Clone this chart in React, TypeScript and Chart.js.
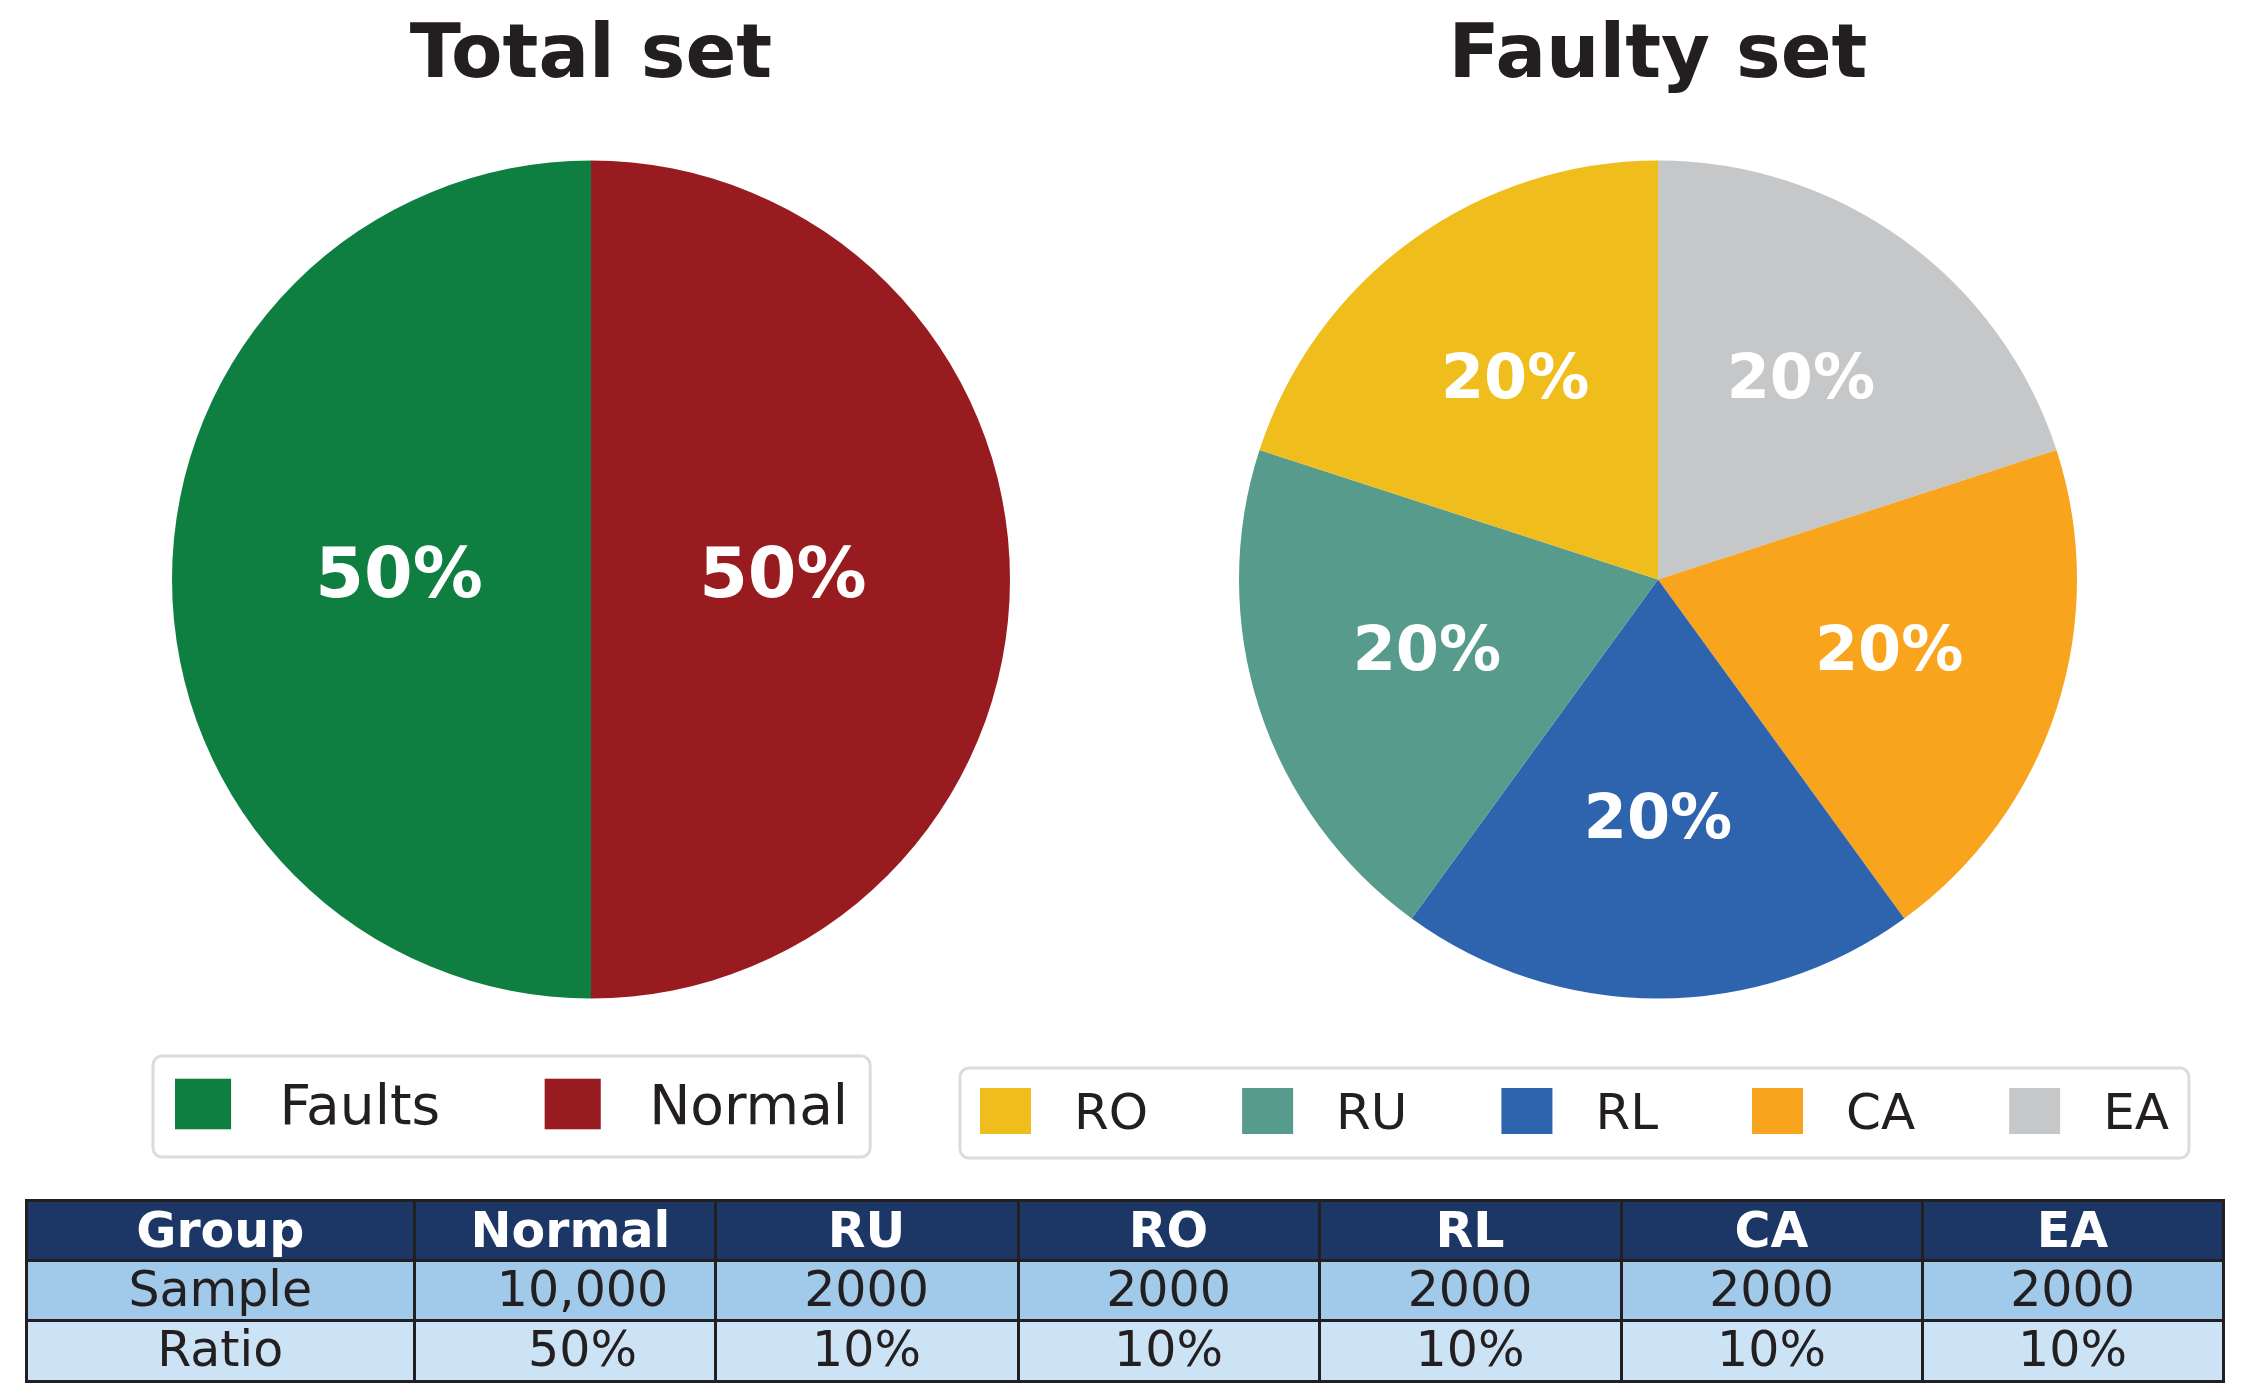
import React, { useEffect, useRef } from "react";
import { Chart, registerables } from "chart.js";

Chart.register(...registerables);

// ---------------- DATA ----------------
const totalLabels = ["Faults", "Normal"];
const totalValues = [50, 50];
const totalColors = ["#0e7f40", "#981b1f"];

const faultyLabels = ["RO", "RU", "RL", "CA", "EA"];
const faultyValues = [20, 20, 20, 20, 20];
const faultyColors = ["#efbe1c", "#579b8d", "#2e63ae", "#f8a41c", "#c6c7c8"];

const tableHeader = ["Group", "Normal", "RU", "RO", "RL", "CA", "EA"];
const sampleRow = ["Sample", "10,000", "2000", "2000", "2000", "2000", "2000"];
const ratioRow = ["Ratio", "50%", "10%", "10%", "10%", "10%", "10%"];

// ---------------- STYLE / LAYOUT ----------------
const TEXT = "#231f20";
const FONT = "'DejaVu Sans', 'Liberation Sans', sans-serif";

const colEdges = [26.5, 414, 715, 1018, 1319, 1621, 1922, 2223];
const rowEdges = [1200, 1260, 1320, 1381];
const headerTextShift = [0, 6, 0, 0, 0, 0, 0];
const bodyTextShift = [0, 18, 0, 0, 0, 0, 0];
const rowBg = ["#1c3766", "#a0c9ea", "#cce3f6"];

const pieDecor = {
  id: "pieDecor",
  afterDraw(chart: any, _args: any, opts: any) {
    const ctx: CanvasRenderingContext2D = chart.ctx;
    const meta = chart.getDatasetMeta(0);
    const vals = chart.data.datasets[0].data as number[];
    const total = vals.reduce((a, b) => a + b, 0);
    const a0: any = meta.data[0];
    const cx = a0.x;
    const cy = a0.y;
    const R = a0.outerRadius;
    ctx.save();
    // title
    ctx.fillStyle = TEXT;
    ctx.textAlign = "center";
    ctx.textBaseline = "alphabetic";
    ctx.font = `bold ${opts.titleSize}px ${FONT}`;
    ctx.fillText(opts.title, cx, opts.titleBaseline);
    // percentage labels
    ctx.font = `bold ${opts.pctSize}px ${FONT}`;
    ctx.fillStyle = "#ffffff";
    meta.data.forEach((el: any, i: number) => {
      const mid = (el.startAngle + el.endAngle) / 2;
      const r = R * opts.pctDist;
      const x = cx + Math.cos(mid) * r;
      const yAnchor = cy + Math.sin(mid) * r;
      const inkCenter = yAnchor - 0.118 * opts.pctSize;
      const txt = Math.round((vals[i] / total) * 100) + "%";
      ctx.fillText(txt, x, inkCenter + (0.729 * opts.pctSize) / 2);
    });
    // legend
    const lg = opts.legend;
    const fs = lg.fontSize;
    ctx.font = `${fs}px ${FONT}`;
    const patchW = 1.02 * fs;
    const patchH = 0.92 * fs;
    const pad = 0.4 * fs;
    const textPad = lg.textPad * fs;
    const colSp = lg.colSp * fs;
    const widths = lg.labels.map((t: string) => ctx.measureText(t).width);
    let content = 0;
    widths.forEach((w: number, i: number) => {
      content += patchW + textPad + w + (i < widths.length - 1 ? colSp : 0);
    });
    const bw = content + 2 * pad;
    ctx.beginPath();
    ctx.roundRect(lg.x, lg.y, bw, lg.h, 9);
    ctx.fillStyle = "#ffffff";
    ctx.fill();
    ctx.lineWidth = 3;
    ctx.strokeStyle = "#dcdcdc";
    ctx.stroke();
    let cur = lg.x + pad;
    ctx.textAlign = "left";
    lg.labels.forEach((t: string, i: number) => {
      ctx.fillStyle = lg.colors[i];
      ctx.fillRect(cur, lg.midY - patchH / 2, patchW, patchH);
      ctx.fillStyle = TEXT;
      ctx.fillText(t, cur + patchW + textPad, lg.midY + (0.729 * fs) / 2);
      cur += patchW + textPad + widths[i] + colSp;
    });
    ctx.restore();
  },
};

type PieProps = {
  left: number;
  width: number;
  height: number;
  labels: string[];
  values: number[];
  colors: string[];
  padding: { left: number; right: number; top: number; bottom: number };
  decor: any;
};

function PieCanvas(p: PieProps) {
  const ref = useRef<HTMLCanvasElement | null>(null);
  useEffect(() => {
    if (!ref.current) return;
    // matplotlib draws counter-clockwise from the top; Chart.js draws clockwise,
    // so the slice order is reversed for drawing.
    const lab = [...p.labels].reverse();
    const val = [...p.values].reverse();
    const col = [...p.colors].reverse();
    const chart = new Chart(ref.current, {
      type: "pie",
      data: {
        labels: lab,
        datasets: [{ data: val, backgroundColor: col, borderWidth: 0 }],
      },
      options: {
        animation: false,
        responsive: false,
        devicePixelRatio: 1,
        layout: { padding: p.padding },
        plugins: {
          legend: { display: false },
          tooltip: { enabled: false },
          title: { display: false },
          pieDecor: p.decor,
        } as any,
      },
      plugins: [pieDecor as any],
    });
    return () => chart.destroy();
  }, []);
  return (
    <canvas
      ref={ref}
      width={p.width}
      height={p.height}
      style={{ position: "absolute", left: p.left, top: 0, width: p.width, height: p.height }}
    />
  );
}

function Table() {
  const rows = [tableHeader, sampleRow, ratioRow];
  const cells: any[] = [];
  rows.forEach((row, r) => {
    row.forEach((txt, c) => {
      cells.push(
        <div
          key={`c${r}-${c}`}
          style={{
            position: "absolute",
            left: colEdges[c],
            top: rowEdges[r],
            width: colEdges[c + 1] - colEdges[c],
            height: rowEdges[r + 1] - rowEdges[r],
            background: rowBg[r],
            display: "flex",
            alignItems: "center",
            justifyContent: "center",
            fontFamily: FONT,
            fontSize: 49,
            lineHeight: 1,
            fontWeight: r === 0 ? "bold" : "normal",
            color: r === 0 ? "#ffffff" : TEXT,
          }}
        >
          <span
            style={{
              position: "relative",
              left: r === 0 ? headerTextShift[c] : bodyTextShift[c],
              top: r === 0 ? 0 : -1,
            }}
          >
            {txt}
          </span>
        </div>
      );
    });
  });
  const lines: any[] = [];
  colEdges.forEach((x, i) => {
    lines.push(
      <div
        key={`v${i}`}
        style={{
          position: "absolute",
          left: x - 1.5,
          top: rowEdges[0] - 1.5,
          width: 3,
          height: rowEdges[rowEdges.length - 1] - rowEdges[0] + 3,
          background: TEXT,
        }}
      />
    );
  });
  rowEdges.forEach((y, i) => {
    lines.push(
      <div
        key={`h${i}`}
        style={{
          position: "absolute",
          left: colEdges[0] - 1.5,
          top: y - 1.5,
          width: colEdges[colEdges.length - 1] - colEdges[0] + 3,
          height: 3,
          background: TEXT,
        }}
      />
    );
  });
  return (
    <>
      {cells}
      {lines}
    </>
  );
}

export default function App() {
  return (
    <div
      style={{
        position: "fixed",
        left: 0,
        top: 0,
        width: 2248,
        height: 1400,
        background: "#ffffff",
        overflow: "hidden",
      }}
    >
      <PieCanvas
        left={0}
        width={1124}
        height={1180}
        labels={totalLabels}
        values={totalValues}
        colors={totalColors}
        padding={{ left: 172, right: 114, top: 160.5, bottom: 181.5 }}
        decor={{
          title: "Total set",
          titleSize: 75,
          titleBaseline: 77,
          pctSize: 70,
          pctDist: 0.458,
          legend: {
            x: 153,
            y: 1056,
            h: 101,
            midY: 1104,
            fontSize: 55,
            textPad: 0.88,
            colSp: 1.9,
            labels: totalLabels,
            colors: totalColors,
          },
        }}
      />
      <PieCanvas
        left={900}
        width={1348}
        height={1180}
        labels={faultyLabels}
        values={faultyValues}
        colors={faultyColors}
        padding={{ left: 339, right: 171, top: 160.5, bottom: 181.5 }}
        decor={{
          title: "Faulty set",
          titleSize: 75,
          titleBaseline: 77,
          pctSize: 62,
          pctDist: 0.58,
          legend: {
            x: 60,
            y: 1068,
            h: 90,
            midY: 1111,
            fontSize: 50,
            textPad: 0.86,
            colSp: 1.88,
            labels: faultyLabels,
            colors: faultyColors,
          },
        }}
      />
      <Table />
    </div>
  );
}
